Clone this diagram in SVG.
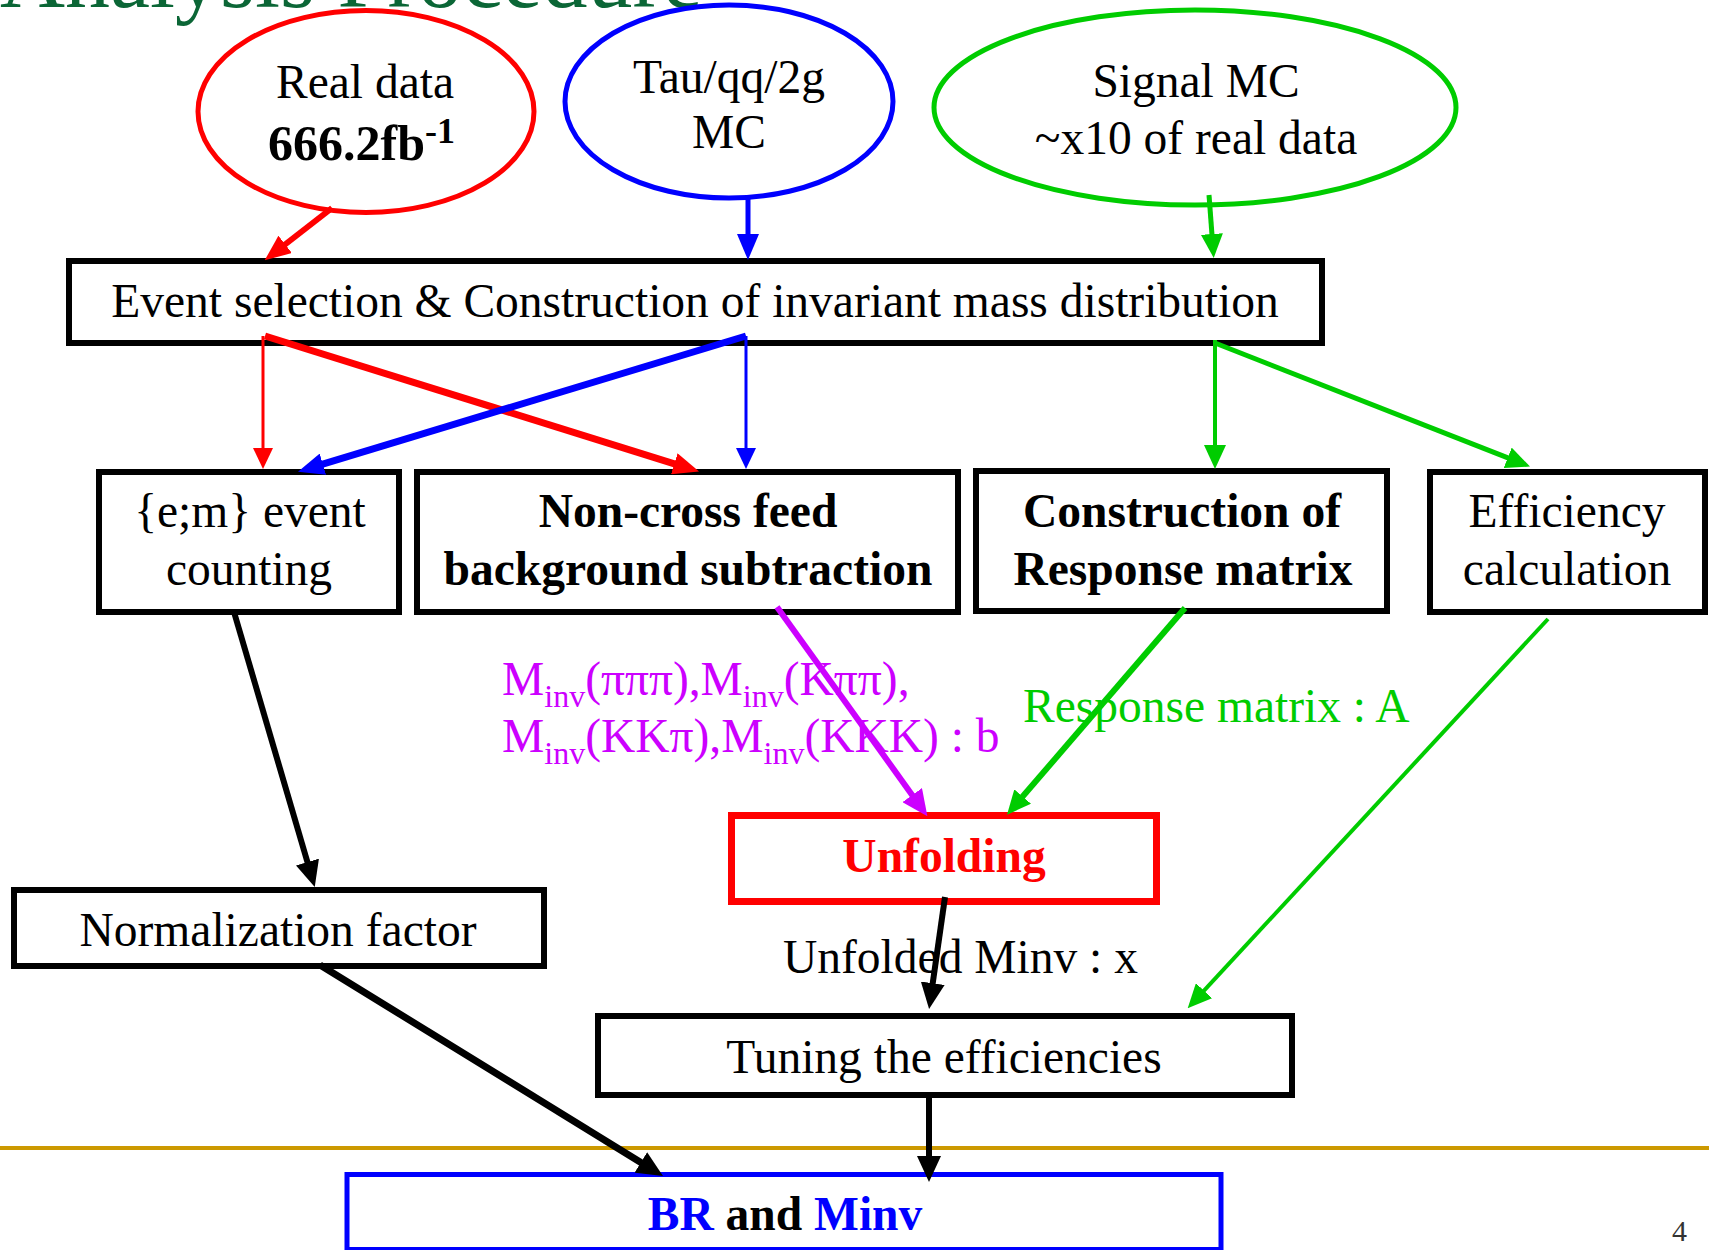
<svg xmlns="http://www.w3.org/2000/svg" width="1714" height="1250" viewBox="0 0 1714 1250">
<style>
text{font-family:"Liberation Serif","Times New Roman",serif;font-size:47.5px;fill:#000}
.b{font-weight:bold}
.box{fill:#fff;stroke:#000;stroke-width:6}
.ell{fill:#fff;stroke-width:5}
.c{text-anchor:middle}
.ln{fill:none;stroke-linecap:butt}
</style>
<defs>
<marker id="hR" markerUnits="userSpaceOnUse" markerWidth="26" markerHeight="22" viewBox="0 -11 26 22" refX="1" refY="0" orient="auto"><path d="M0,-11 L26,0 L0,11 z" fill="#f00"/></marker>
<marker id="hRs" markerUnits="userSpaceOnUse" markerWidth="21" markerHeight="20" viewBox="0 -10 21 20" refX="1" refY="0" orient="auto"><path d="M0,-10 L21,0 L0,10 z" fill="#f00"/></marker>
<marker id="hB" markerUnits="userSpaceOnUse" markerWidth="26" markerHeight="22" viewBox="0 -11 26 22" refX="1" refY="0" orient="auto"><path d="M0,-11 L26,0 L0,11 z" fill="#00f"/></marker>
<marker id="hBs" markerUnits="userSpaceOnUse" markerWidth="21" markerHeight="20" viewBox="0 -10 21 20" refX="1" refY="0" orient="auto"><path d="M0,-10 L21,0 L0,10 z" fill="#00f"/></marker>
<marker id="hG" markerUnits="userSpaceOnUse" markerWidth="24" markerHeight="22" viewBox="0 -11 24 22" refX="1" refY="0" orient="auto"><path d="M0,-11 L24,0 L0,11 z" fill="#00cc00"/></marker>
<marker id="hK" markerUnits="userSpaceOnUse" markerWidth="26" markerHeight="24" viewBox="0 -12 26 24" refX="1" refY="0" orient="auto"><path d="M0,-12 L26,0 L0,12 z" fill="#000"/></marker>
<marker id="hP" markerUnits="userSpaceOnUse" markerWidth="26" markerHeight="24" viewBox="0 -12 26 24" refX="1" refY="0" orient="auto"><path d="M0,-12 L26,0 L0,12 z" fill="#cc00ff"/></marker>
</defs>
<rect width="1714" height="1250" fill="#fff"/>
<text x="0" y="7" style="font-size:90px;fill:#0b6636">Analysis Procedure</text>
<line x1="0" y1="1148" x2="1709" y2="1148" stroke="#cc9900" stroke-width="4"/>
<text x="1672" y="1241" style="font-size:30px;fill:#333">4</text>

<g id="real-data">
<ellipse class="ell" cx="366" cy="111.5" rx="168" ry="101" stroke="#f00"/>
<text class="c" x="365" y="98">Real data</text>
<text x="268" y="160" class="b" style="font-size:50px">666.2fb<tspan dy="-17" style="font-size:36px">-1</tspan></text>
</g>
<g id="tau-mc">
<ellipse class="ell" cx="729" cy="101.5" rx="164" ry="96.5" stroke="#00f"/>
<text class="c" x="729" y="93">Tau/qq/2g</text>
<text class="c" x="729" y="148">MC</text>
</g>
<g id="signal-mc">
<ellipse class="ell" cx="1195" cy="107.5" rx="261" ry="97.5" stroke="#00cc00"/>
<text class="c" x="1196" y="97">Signal MC</text>
<text class="c" x="1196" y="154">~x10 of real data</text>
</g>

<g id="event-selection">
<rect class="box" x="69" y="261" width="1253" height="82"/>
<text class="c" x="695" y="317">Event selection &amp; Construction of invariant mass distribution</text>
</g>
<g id="event-counting">
<rect class="box" x="99" y="472" width="300" height="140"/>
<text class="c" x="250" y="527">{e;m} event</text>
<text class="c" x="249" y="585">counting</text>
</g>
<g id="bg-subtraction">
<rect class="box" x="417" y="472" width="541" height="140"/>
<text class="c b" x="688" y="527">Non-cross feed</text>
<text class="c b" x="688" y="585">background subtraction</text>
</g>
<g id="response-matrix">
<rect class="box" x="976" y="471" width="411" height="140"/>
<text class="c b" x="1182" y="527">Construction of</text>
<text class="c b" x="1183" y="585">Response matrix</text>
</g>
<g id="efficiency">
<rect class="box" x="1430" y="472" width="275" height="140"/>
<text class="c" x="1567" y="527">Efficiency</text>
<text class="c" x="1567" y="585">calculation</text>
</g>

<g id="label-b">
<text x="502" y="695" style="fill:#cc00ff">M<tspan dy="12" style="font-size:32px">inv</tspan><tspan dy="-12">(πππ),M</tspan><tspan dy="12" style="font-size:32px">inv</tspan><tspan dy="-12">(Kππ),</tspan></text>
<text x="502" y="752" style="fill:#cc00ff">M<tspan dy="12" style="font-size:32px">inv</tspan><tspan dy="-12">(KKπ),M</tspan><tspan dy="12" style="font-size:32px">inv</tspan><tspan dy="-12">(KKK) : b</tspan></text>
</g>
<g id="label-a">
<text x="1023" y="722" style="fill:#00cc00">Response matrix : A</text>
</g>

<g id="unfolding">
<rect x="731.5" y="815.5" width="425" height="86" fill="#fff" stroke="#f00" stroke-width="7"/>
<text class="c b" x="944" y="872" style="fill:#f00">Unfolding</text>
</g>
<g id="normalization">
<rect class="box" x="14" y="890" width="530" height="76"/>
<text class="c" x="278" y="946">Normalization factor</text>
</g>
<g id="label-x">
<text x="783" y="973">Unfolded Minv : x</text>
</g>
<g id="tuning">
<rect class="box" x="598" y="1016" width="694" height="79"/>
<text class="c" x="944" y="1073">Tuning the efficiencies</text>
</g>
<g id="br-minv">
<rect x="347" y="1174.5" width="874" height="75" fill="#fff" stroke="#00f" stroke-width="5"/>
<text class="c b" x="785" y="1230"><tspan style="fill:#00f">BR</tspan> and <tspan style="fill:#00f">Minv</tspan></text>
</g>

<g id="connectors">
<line class="ln" x1="332" y1="208" x2="284.4" y2="245" stroke="#f00" stroke-width="6" marker-end="url(#hR)"/>
<line class="ln" x1="748" y1="198" x2="748" y2="235" stroke="#00f" stroke-width="5" marker-end="url(#hB)"/>
<line class="ln" x1="1209" y1="195" x2="1212" y2="235" stroke="#00cc00" stroke-width="5" marker-end="url(#hG)"/>
<line class="ln" x1="263" y1="336" x2="263" y2="449" stroke="#f00" stroke-width="3" marker-end="url(#hRs)"/>
<line class="ln" x1="265" y1="336" x2="675.2" y2="464.1" stroke="#f00" stroke-width="7" marker-end="url(#hR)"/>
<line class="ln" x1="746" y1="336" x2="321.9" y2="464.4" stroke="#00f" stroke-width="7" marker-end="url(#hB)"/>
<line class="ln" x1="746" y1="336" x2="746" y2="449" stroke="#00f" stroke-width="3" marker-end="url(#hBs)"/>
<line class="ln" x1="1215" y1="340" x2="1215" y2="446" stroke="#00cc00" stroke-width="4" marker-end="url(#hG)"/>
<line class="ln" x1="1215" y1="343" x2="1508.6" y2="458.2" stroke="#00cc00" stroke-width="5" marker-end="url(#hG)"/>
<line class="ln" x1="234" y1="612" x2="307.7" y2="863" stroke="#000" stroke-width="6" marker-end="url(#hK)"/>
<line class="ln" x1="777" y1="607" x2="912.8" y2="795.9" stroke="#cc00ff" stroke-width="6" marker-end="url(#hP)"/>
<line class="ln" x1="1185" y1="608" x2="1022" y2="797.3" stroke="#00cc00" stroke-width="6" marker-end="url(#hG)"/>
<line class="ln" x1="1548" y1="619" x2="1203.3" y2="991.4" stroke="#00cc00" stroke-width="4" marker-end="url(#hG)"/>
<line class="ln" x1="945" y1="897" x2="932.6" y2="984.2" stroke="#000" stroke-width="6" marker-end="url(#hK)"/>
<line class="ln" x1="320" y1="965" x2="641.7" y2="1162.9" stroke="#000" stroke-width="7" marker-end="url(#hK)"/>
<line class="ln" x1="929" y1="1095" x2="929" y2="1157" stroke="#000" stroke-width="6" marker-end="url(#hK)"/>
</g>
</svg>
